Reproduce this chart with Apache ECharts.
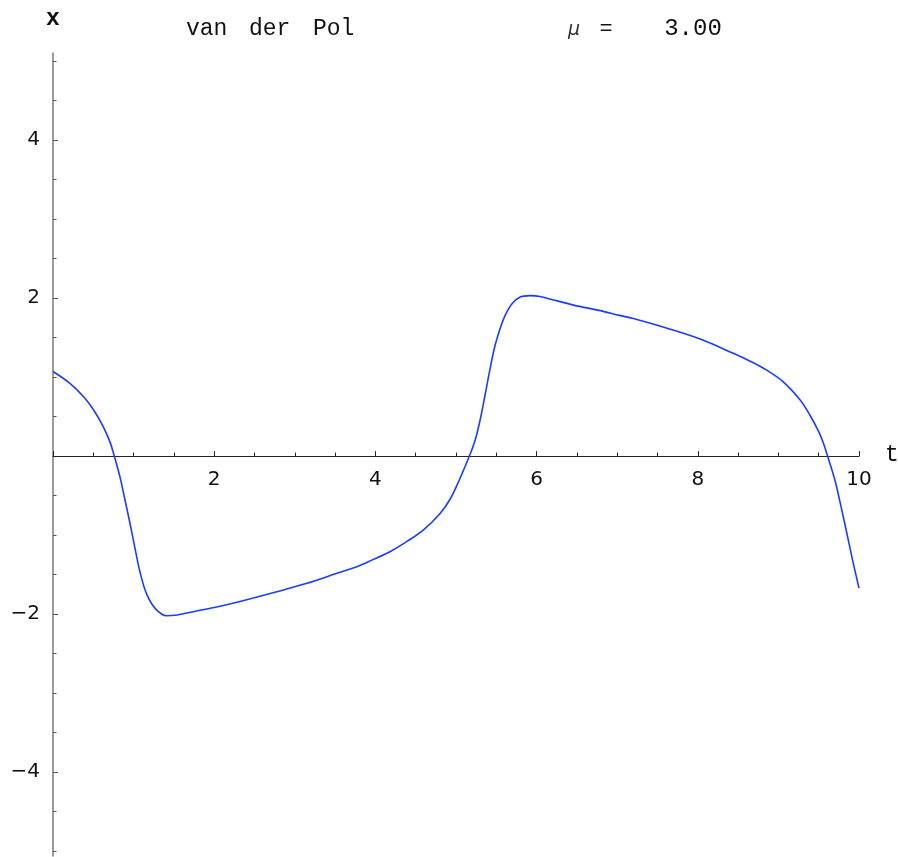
<!DOCTYPE html>
<html>
<head>
<meta charset="utf-8">
<script src="https://cdn.jsdelivr.net/npm/echarts@6/dist/echarts.min.js"></script>
<style>
  html, body { margin: 0; padding: 0; background: #ffffff; }
  #chart { width: 898px; height: 857px; }
</style>
</head>
<body>
<div id="chart"></div>
<script>
// time values t
var tValues = [0, 0.21, 0.38, 0.50, 0.62, 0.71, 0.76, 0.83, 0.89, 0.955, 1.02, 1.08, 1.16, 1.27, 1.41, 1.54, 1.78, 2.03, 2.32, 2.73, 3.15, 3.56, 3.77, 3.97, 4.18, 4.39, 4.59, 4.80, 4.93, 5.05, 5.17, 5.24, 5.30, 5.36, 5.42, 5.48, 5.55, 5.61, 5.69, 5.79, 5.92, 6.04, 6.46, 6.79, 7.03, 7.20, 7.61, 8.03, 8.44, 8.65, 8.85, 9.06, 9.27, 9.39, 9.50, 9.56, 9.61, 9.70, 9.76, 9.85, 9.93, 10.0];
// x(t) values
var xValues = [1.07, 0.92, 0.75, 0.59, 0.38, 0.17, 0.00, -0.26, -0.54, -0.85, -1.18, -1.47, -1.74, -1.93, -2.02, -2.01, -1.96, -1.91, -1.84, -1.73, -1.61, -1.47, -1.40, -1.31, -1.21, -1.08, -0.94, -0.73, -0.54, -0.28, 0.01, 0.21, 0.46, 0.77, 1.09, 1.38, 1.62, 1.78, 1.92, 2.01, 2.03, 2.02, 1.91, 1.84, 1.78, 1.74, 1.62, 1.48, 1.30, 1.20, 1.09, 0.94, 0.71, 0.52, 0.31, 0.16, 0.00, -0.30, -0.56, -0.98, -1.36, -1.67];
// tick labels
var tTickLabels = [2, 4, 6, 8, 10];
var xTickLabels = [-4, -2, 2, 4];
var xMinorTicks = [-5, -4.5, -3.5, -3, -2.5, -1.5, -1, -0.5, 0.5, 1, 1.5, 2.5, 3, 3.5, 4.5, 5];
var titleText = 'van der Pol';
var muLabel = 'μ';
var muValue = '3.00';

var Y_MIN = -5.06, Y_MAX = 5.1;
var seriesData = tValues.map(function (t, i) { return [t, xValues[i]]; });

var chart = echarts.init(document.getElementById('chart'), null, { renderer: 'canvas' });
var tickFont = 'DejaVu Sans';
var monoFont = 'Liberation Mono';

var gridTop = 53, gridBottom = 1, H = 857;
var plotH = H - gridTop - gridBottom;
// distance from grid bottom edge up to the x = 0 line
var zeroOffset = -plotH * (0 - Y_MIN) / (Y_MAX - Y_MIN);

chart.setOption({
  backgroundColor: '#ffffff',
  animation: false,
  grid: { left: 53, right: 39, top: gridTop, bottom: gridBottom, containLabel: false, outerBoundsMode: 'none' },
  xAxis: {
    type: 'value',
    min: 0, max: 10, interval: 2,
    position: 'bottom',
    offset: zeroOffset,
    axisLine: { show: true, onZero: false, lineStyle: { color: '#222222', width: 1 } },
    axisTick: { show: true, inside: true, length: 5, lineStyle: { color: '#222222', width: 1 } },
    minorTick: { show: true, splitNumber: 4, length: 3.5, lineStyle: { color: '#222222', width: 1 } },
    axisLabel: {
      show: true, customValues: tTickLabels, margin: 14,
      fontFamily: tickFont, fontSize: 20, color: '#111111'
    },
    splitLine: { show: false },
    minorSplitLine: { show: false }
  },
  yAxis: [
    {
      type: 'value',
      min: Y_MIN, max: Y_MAX,
      position: 'left',
      axisLine: { show: true, onZero: false, lineStyle: { color: '#7a7a7a', width: 1.5 } },
      axisTick: { show: true, inside: true, length: 5, customValues: xTickLabels, lineStyle: { color: '#555555', width: 1 } },
      axisLabel: {
        show: true, customValues: xTickLabels, margin: 13,
        fontFamily: tickFont, fontSize: 20, color: '#111111',
        formatter: function (v) { return String(v).replace('-', '\u2212'); }
      },
      splitLine: { show: false }
    },
    {
      type: 'value',
      min: Y_MIN, max: Y_MAX,
      position: 'left',
      axisLine: { show: false, onZero: false },
      axisTick: { show: true, inside: true, length: 3.5, customValues: xMinorTicks, lineStyle: { color: '#555555', width: 1 } },
      axisLabel: { show: false },
      splitLine: { show: false }
    }
  ],
  series: [{
    type: 'line',
    data: seriesData,
    yAxisIndex: 0,
    showSymbol: false,
    smooth: 0.35,
    clip: false,
    lineStyle: { color: '#1a3cff', width: 1.6 }
  }],
  graphic: [
    { type: 'text', style: { x: 53, y: 19, text: 'x', textAlign: 'center', textVerticalAlign: 'middle', fontFamily: monoFont, fontSize: 23, fontWeight: 'bold', fill: '#111111' } },
    { type: 'text', style: { x: 885, y: 455, text: 't', textAlign: 'left', textVerticalAlign: 'middle', fontFamily: monoFont, fontSize: 23, fill: '#111111' } },
    { type: 'text', style: { x: 186, y: 29, text: titleText.split(' ')[0], textAlign: 'left', textVerticalAlign: 'middle', fontFamily: monoFont, fontSize: 23, fill: '#111111' } },
    { type: 'text', style: { x: 249, y: 29, text: titleText.split(' ')[1], textAlign: 'left', textVerticalAlign: 'middle', fontFamily: monoFont, fontSize: 23, fill: '#111111' } },
    { type: 'text', style: { x: 313, y: 29, text: titleText.split(' ')[2], textAlign: 'left', textVerticalAlign: 'middle', fontFamily: monoFont, fontSize: 23, fill: '#111111' } },
    { type: 'text', style: { x: 574, y: 30, text: muLabel, textAlign: 'center', textVerticalAlign: 'middle', fontFamily: 'DejaVu Sans', fontStyle: 'italic', fontSize: 19, fill: '#333333' } },
    { type: 'text', style: { x: 606, y: 29, text: '=', textAlign: 'center', textVerticalAlign: 'middle', fontFamily: monoFont, fontSize: 22, fill: '#111111' } },
    { type: 'text', style: { x: 693, y: 29, text: muValue, textAlign: 'center', textVerticalAlign: 'middle', fontFamily: monoFont, fontSize: 24, fill: '#111111' } }
  ]
});
</script>
</body>
</html>
